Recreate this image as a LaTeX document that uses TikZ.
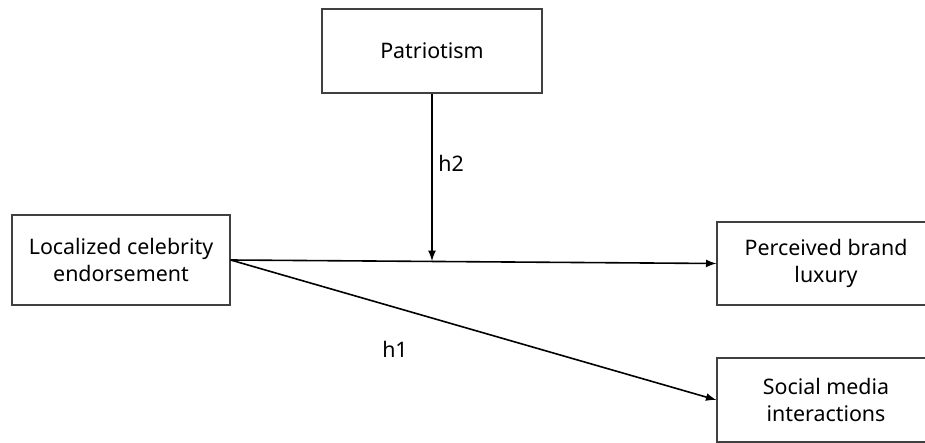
\documentclass[tikz,border=0pt]{standalone}
\usepackage{fontspec}
\setmainfont{Noto Sans}
\begin{document}
\begin{tikzpicture}[x=0.5pt, y=-0.5pt, >=latex,
	varbox/.style={draw=black!75, line width=0.6pt, rectangle, font=\fontsize{10.7}{13.5}\selectfont, align=center, minimum width=109pt, minimum height=42pt, inner sep=0pt},
	hlabel/.style={font=\fontsize{10.7}{13.5}\selectfont, inner sep=0pt}]
	\useasboundingbox (0,0) rectangle (925,443);

	\node[varbox, minimum width=110pt] (patr) at (432,51) {Patriotism};
	\node[varbox, minimum height=45pt] (lce) at (121,260) {Localized celebrity\\endorsement};
	\node[varbox, minimum height=41.5pt] (pbl) at (826,263.5) {Perceived brand\\luxury};
	\node[varbox, minimum height=42pt] (smi) at (826,400) {Social media\\interactions};

	\coordinate (mod) at (432,261);

	\node[hlabel] (h2) at (451,163) {h2};
	\node[hlabel] (h1) at (395,349) {h1};

	\draw[->, line width=0.8pt] (patr.south) to (mod);
	\draw[->, line width=0.8pt] (lce.east) to (pbl.west);
	\draw[->, line width=0.8pt] (lce.east) to (smi.west);
\end{tikzpicture}
\end{document}
